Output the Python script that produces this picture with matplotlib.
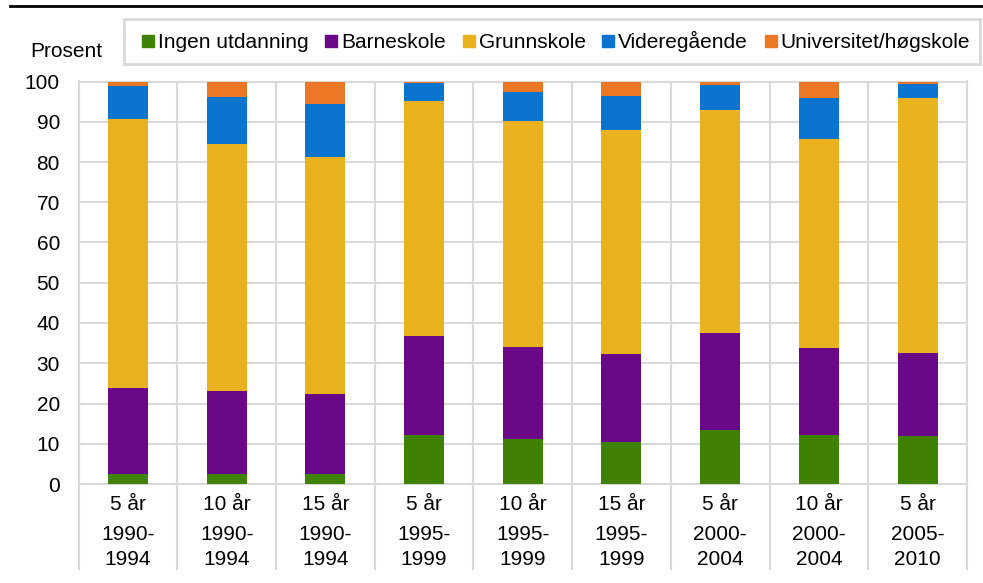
"""
Stacked bar chart: education level (prosent) per cohort and years since arrival.
"""

import matplotlib.pyplot as plt
from matplotlib.lines import Line2D
from matplotlib.patches import Rectangle

plt.rcParams["font.family"] = ["Liberation Sans", "DejaVu Sans"]

# Data
DURATION = ["5 år", "10 år", "15 år", "5 år", "10 år", "15 år", "5 år", "10 år", "5 år"]
COHORT = ["1990-\n1994", "1990-\n1994", "1990-\n1994", "1995-\n1999", "1995-\n1999",
          "1995-\n1999", "2000-\n2004", "2000-\n2004", "2005-\n2010"]

ingen = [2.4, 2.4, 2.4, 12.2, 11.2, 10.5, 13.4, 12.2, 12.0]
barneskole = [21.4, 20.7, 20.0, 24.6, 22.8, 21.9, 24.2, 21.6, 20.5]
grunnskole = [66.9, 61.4, 58.9, 58.4, 56.2, 55.5, 55.3, 51.9, 63.5]
videregaende = [8.3, 11.6, 13.1, 4.4, 7.3, 8.6, 6.2, 10.2, 3.5]
universitet = [1.0, 3.9, 5.6, 0.4, 2.5, 3.5, 0.9, 4.1, 0.5]

SERIES = [
    ("Ingen utdanning", ingen, "#3f8203"),
    ("Barneskole", barneskole, "#6a0888"),
    ("Grunnskole", grunnskole, "#ebb220"),
    ("Videregående", videregaende, "#0b74cf"),
    ("Universitet/høgskole", universitet, "#eb7825"),
]

GRID = "#d9d9d9"
FS = 15


def main() -> None:
    fig = plt.figure(figsize=(9.83, 5.83), dpi=100)
    ax = fig.add_axes([78.6 / 983, 1 - 484 / 583, (966.9 - 78.6) / 983, (484 - 81.5) / 583])

    x = list(range(len(DURATION)))
    bottom = [0.0] * len(x)
    handles = []
    for name, vals, color in SERIES:
        ax.bar(x, vals, width=0.405, bottom=bottom, color=color, zorder=3)
        bottom = [b + v for b, v in zip(bottom, vals)]
        handles.append(Line2D([], [], marker="s", linestyle="none", markersize=8,
                              markerfacecolor=color, markeredgecolor=color, label=name))

    ax.set_xlim(-0.5, len(x) - 0.5)
    ax.set_ylim(0, 100)
    ax.set_yticks(range(0, 101, 10))
    ax.tick_params(axis="y", length=0, pad=13.4, labelsize=FS)

    # category separators: minor ticks that reach down through the label rows
    ax.set_xticks(x)
    ax.set_xticklabels([])
    ax.set_xticks([i - 0.5 for i in range(len(x) + 1)], minor=True)
    ax.tick_params(axis="x", which="major", length=0)
    ax.tick_params(axis="x", which="minor", length=62, width=1.5, color=GRID, direction="out")

    ax.grid(True, which="minor", axis="x", color=GRID, linewidth=1.5, zorder=0)
    ax.grid(True, which="major", axis="y", color=GRID, linewidth=1.5, zorder=0)
    for sp in ax.spines.values():
        sp.set_color(GRID)
        sp.set_linewidth(1.5)

    for i, (dur, coh) in enumerate(zip(DURATION, COHORT)):
        ax.annotate(dur, xy=(i, 0), xycoords=("data", "axes fraction"),
                    xytext=(0, -18.7), textcoords="offset points",
                    ha="center", va="baseline", fontsize=FS)
        top, bot = coh.split("\n")
        ax.annotate(top, xy=(i, 0), xycoords=("data", "axes fraction"),
                    xytext=(0, -40.3), textcoords="offset points",
                    ha="center", va="baseline", fontsize=FS)
        ax.annotate(bot, xy=(i, 0), xycoords=("data", "axes fraction"),
                    xytext=(0, -58.3), textcoords="offset points",
                    ha="center", va="baseline", fontsize=FS)

    fig.text(30 / 983, 1 - 57 / 583, "Prosent", fontsize=FS, ha="left", va="baseline")

    # legend frame drawn separately so the entries can sit where they do in the original
    fig.patches.append(Rectangle((124 / 983, 1 - 64 / 583), (980 - 124) / 983, 45 / 583,
                                 transform=fig.transFigure, fill=False,
                                 edgecolor=GRID, linewidth=2))
    fig.legend(handles=handles, loc="center left", ncol=5,
               bbox_to_anchor=(133 / 983, 1 - 41.5 / 583), fontsize=FS,
               handlelength=0.55, handletextpad=0.2, columnspacing=0.82,
               borderpad=0.45, borderaxespad=0, frameon=False)

    # heavy rule at the top of the figure
    fig.add_artist(Line2D([10 / 983, 1.0], [1 - 6.2 / 583] * 2, color="black",
                          linewidth=2, transform=fig.transFigure))

    fig.savefig("out.png", dpi=100)
    plt.close(fig)


if __name__ == "__main__":
    main()
